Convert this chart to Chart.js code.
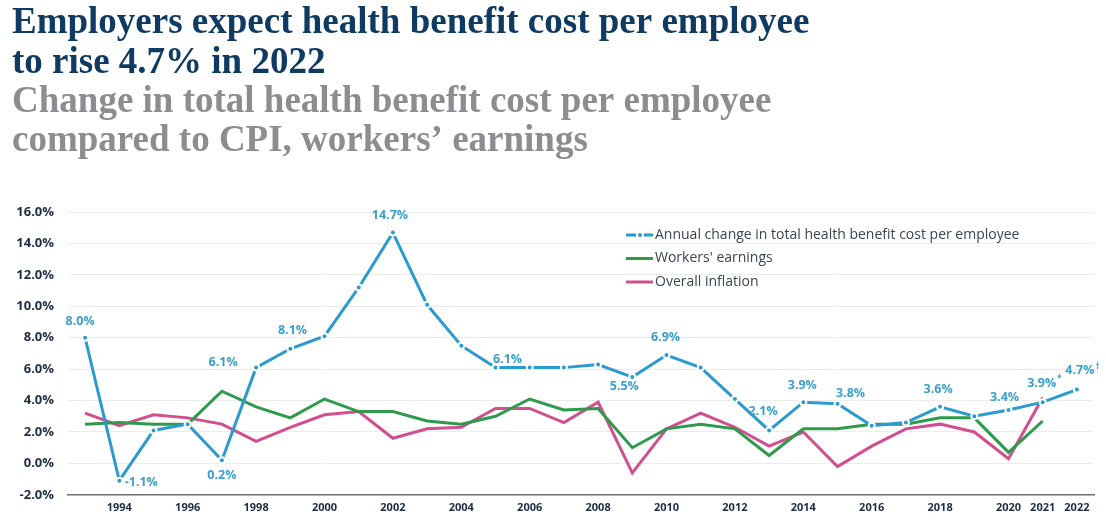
<!DOCTYPE html>
<html>
<head>
<meta charset="utf-8">
<script src="https://cdn.jsdelivr.net/npm/chart.js@4"></script>
<style>
  body { margin: 0; background: #fff; }
  #wrap { width: 1106px; height: 524px; }
</style>
</head>
<body>
<div id="wrap"><canvas id="lineChart" width="1106" height="524"></canvas></div>
<script>
const years = [];
for (let y = 1993; y <= 2022; y++) years.push(String(y));

const healthCost = [8.0, -1.1, 2.1, 2.5, 0.2, 6.1, 7.3, 8.1, 11.2, 14.7,
                    10.1, 7.5, 6.1, 6.1, 6.1, 6.3, 5.5, 6.9, 6.1, 4.1,
                    2.1, 3.9, 3.8, 2.4, 2.6, 3.6, 3.0, 3.4, 3.9, 4.7];
const earnings = [2.5, 2.6, 2.5, 2.5, 4.6, 3.6, 2.9, 4.1, 3.3, 3.3,
                  2.7, 2.5, 3.0, 4.1, 3.4, 3.5, 1.0, 2.2, 2.5, 2.2,
                  0.5, 2.2, 2.2, 2.5, 2.5, 2.9, 2.9, 0.7, 2.7, null];
const inflation = [3.2, 2.4, 3.1, 2.9, 2.5, 1.4, 2.3, 3.1, 3.3, 1.6,
                   2.2, 2.3, 3.5, 3.5, 2.6, 3.9, -0.6, 2.2, 3.2, 2.3,
                   1.1, 2.0, -0.2, 1.1, 2.2, 2.5, 2.0, 0.3, 4.2, null];

// value labels on the health cost line
const labelYears = ['1993', '1994', '1997', '1998', '2000', '2002', '2005', '2009', '2010',
                    '2013', '2014', '2015', '2018', '2020', '2021', '2022'];
const labelTexts = ['8.0%', '-1.1%', '0.2%', '6.1%', '8.1%', '14.7%', '6.1%', '5.5%', '6.9%',
                    '2.1%', '3.9%', '3.8%', '3.6%', '3.4%', '3.9%', '4.7%'];
const labelMarks = { '2021': '*', '2022': '\u2020' };
// where each label sits relative to its point (px)
const labelOffsets = {
  '1993': [-5, -16], '1994': [22, 2], '1997': [0, 15], '1998': [-33, -5],
  '2000': [-32, -6], '2002': [-3, -17], '2005': [12, -8], '2009': [-8, 9],
  '2010': [-1, -18], '2013': [-6, -19], '2014': [-1, -17], '2015': [13, -10],
  '2018': [-2, -17], '2020': [-4, -13], '2021': [-1, -19], '2022': [3, -19]
};

const shownYears = ['1994', '1996', '1998', '2000', '2002', '2004', '2006', '2008', '2010',
                    '2012', '2014', '2016', '2018', '2020', '2021', '2022'];

const blue = '#2b9bcf';
const green = '#2e9a4c';
const pink = '#d14f8f';

const valueLabels = {
  id: 'valueLabels',
  afterDatasetsDraw(chart) {
    const ctx = chart.ctx;
    const meta = chart.getDatasetMeta(0);
    ctx.save();
    ctx.fillStyle = '#3a9fcd';
    ctx.textBaseline = 'middle';
    labelYears.forEach((yr, i) => {
      const pt = meta.data[years.indexOf(yr)];
      const off = labelOffsets[yr];
      const x = pt.x + off[0];
      const y = pt.y + off[1];
      ctx.font = 'bold 12.5px "Open Sans"';
      ctx.textAlign = 'center';
      ctx.fillText(labelTexts[i], x, y);
      if (labelMarks[yr]) {
        const w = ctx.measureText(labelTexts[i]).width;
        ctx.font = 'bold 8px "Open Sans"';
        ctx.textAlign = 'left';
        ctx.fillText(labelMarks[yr], x + w / 2 + 1, y - 4);
      }
    });
    ctx.restore();
  }
};

const sideLegend = {
  id: 'sideLegend',
  afterDraw(chart) {
    const ctx = chart.ctx;
    const area = chart.chartArea;
    const x0 = area.left + 558;
    let y = 235;
    ctx.save();
    chart.data.datasets.forEach((ds, i) => {
      ctx.strokeStyle = ds.borderColor;
      ctx.lineWidth = 3;
      ctx.beginPath();
      ctx.moveTo(x0, y);
      ctx.lineTo(x0 + 27, y);
      ctx.stroke();
      if (i === 0) {
        ctx.fillStyle = '#fff';
        ctx.beginPath(); ctx.arc(x0 + 14, y, 4, 0, Math.PI * 2); ctx.fill();
        ctx.fillStyle = ds.borderColor;
        ctx.beginPath(); ctx.arc(x0 + 14, y, 2, 0, Math.PI * 2); ctx.fill();
      }
      ctx.fillStyle = '#3a4452';
      ctx.font = '14px "Open Sans"';
      ctx.textAlign = 'left';
      ctx.textBaseline = 'middle';
      ctx.fillText(ds.label, x0 + 29, y);
      y += 23.5;
    });
    ctx.restore();
  }
};

new Chart(document.getElementById('lineChart'), {
  type: 'line',
  data: {
    labels: years,
    datasets: [
      {
        label: 'Annual change in total health benefit cost per employee',
        data: healthCost,
        borderColor: blue,
        backgroundColor: blue,
        borderWidth: 3,
        pointRadius: 3,
        pointBorderColor: '#fff',
        pointBorderWidth: 2,
        tension: 0
      },
      {
        label: "Workers' earnings",
        data: earnings,
        borderColor: green,
        backgroundColor: green,
        borderWidth: 3,
        pointRadius: 0,
        tension: 0
      },
      {
        label: 'Overall inflation',
        data: inflation,
        borderColor: pink,
        backgroundColor: pink,
        borderWidth: 3,
        pointRadius: 0,
        tension: 0
      }
    ]
  },
  options: {
    responsive: false,
    animation: false,
    layout: { padding: { left: 12, right: 12, top: 0, bottom: 12 } },
    plugins: {
      legend: { display: false },
      tooltip: { enabled: false },
      title: {
        display: true,
        align: 'start',
        text: ['Employers expect health benefit cost per employee', 'to rise 4.7% in 2022'],
        color: '#0f3b63',
        font: { family: '"Liberation Serif"', size: 37, weight: 'bold', lineHeight: 1.062 },
        padding: { top: 4, bottom: 0 }
      },
      subtitle: {
        display: true,
        align: 'start',
        text: ['Change in total health benefit cost per employee', 'compared to CPI, workers\u2019 earnings'],
        color: '#8b8d90',
        font: { family: '"Liberation Serif"', size: 37, weight: 'bold', lineHeight: 1.062 },
        padding: { top: 0, bottom: 51 }
      }
    },
    scales: {
      x: {
        offset: true,
        grid: { display: false },
        border: { display: true, color: '#707070', width: 1.5 },
        ticks: {
          autoSkip: false,
          maxRotation: 0,
          padding: -2,
          color: '#1d2d44',
          font: { family: '"Open Sans"', size: 11, weight: 'bold' },
          callback: function (val) {
            const lab = this.getLabelForValue(val);
            return shownYears.includes(lab) ? lab : '';
          }
        }
      },
      y: {
        min: -2,
        max: 16,
        border: { display: false },
        grid: { color: '#ececec', drawTicks: false },
        afterFit: scale => { scale.width = 56; },
        ticks: {
          stepSize: 2,
          padding: 14,
          color: '#1d2d44',
          font: { family: '"Open Sans"', size: 13, weight: 'bold' },
          callback: v => v.toFixed(1) + '%'
        }
      }
    }
  },
  plugins: [valueLabels, sideLegend]
});
</script>
</body>
</html>
